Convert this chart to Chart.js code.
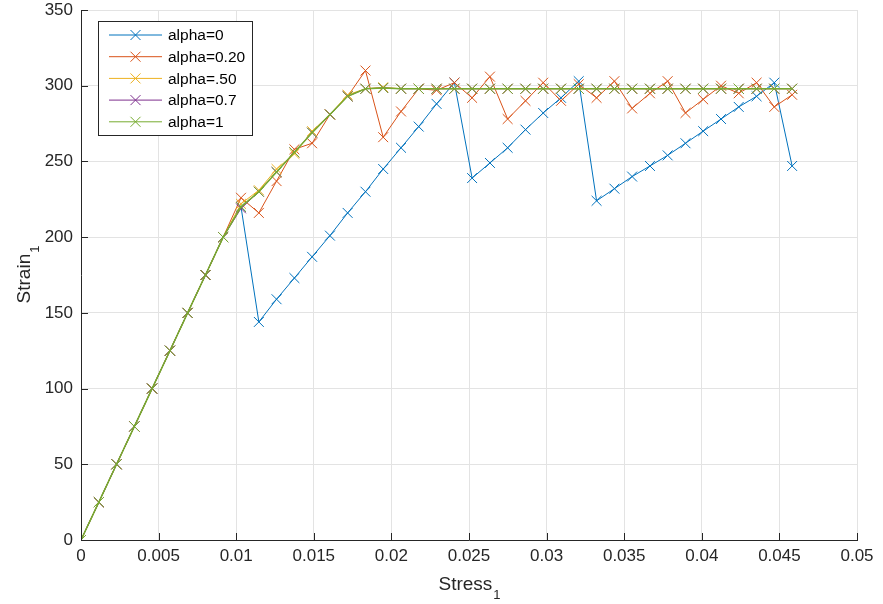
<!DOCTYPE html>
<html>
<head>
<meta charset="utf-8">
<script src="https://cdn.jsdelivr.net/npm/chart.js@4.4.1/dist/chart.umd.min.js"></script>
<style>
  html, body { margin: 0; padding: 0; background: #fff; }
  #wrap { width: 883px; height: 604px; }
</style>
</head>
<body>
<div id="wrap"><canvas id="chart"></canvas></div>
<script>
// stress values shared by every run (x axis)
const stress = [0, 0.00115, 0.00229, 0.00344, 0.00458, 0.00573, 0.00687, 0.00802, 0.00916,
    0.01031, 0.01146, 0.0126, 0.01375, 0.01489, 0.01604, 0.01718, 0.01833, 0.01947, 0.02062,
    0.02176, 0.02291, 0.02406, 0.0252, 0.02635, 0.02749, 0.02864, 0.02978, 0.03093, 0.03207,
    0.03322, 0.03437, 0.03551, 0.03666, 0.0378, 0.03895, 0.04009, 0.04124, 0.04238, 0.04353,
    0.04467, 0.04582];

const seriesLabels = ['alpha=0', 'alpha=0.20', 'alpha=.50', 'alpha=0.7', 'alpha=1'];
const seriesColors = ['#0072BD', '#D95319', '#EDB120', '#7E2F8E', '#77AC30'];
const seriesWidths = [1, 1, 1, 1, 1.5];

const strainAlpha0 = [0, 25, 50, 75, 100, 125, 150, 175, 200,
    220, 144, 159, 173, 187, 201, 216, 230, 245, 259, 273, 288, 302,
    239, 249, 259, 271, 282, 292, 303,
    224, 232, 240, 247, 254, 262, 270, 278, 286, 293, 302,
    247];
const strainAlpha020 = [0, 25, 50, 75, 100, 125, 150, 175, 200,
    226, 216, 237, 258, 262, 281, 293, 310, 266, 283,
    298, 297, 302, 292, 306, 278, 290, 302, 290, 301,
    292, 303, 285, 295, 303, 282, 291, 300, 295, 302, 286,
    294];
const strainAlpha050 = [0, 25, 50, 75, 100, 125, 150, 175, 200,
    222, 231, 245, 255, 270, 281, 294, 298, 299, 298,
    298, 298, 298, 298, 298, 298, 298, 298, 298, 298,
    298, 298, 298, 298, 298, 298, 298, 298, 298, 298, 298,
    298];
const strainAlpha07 = [0, 25, 50, 75, 100, 125, 150, 175, 200,
    219, 230, 243, 256, 269, 281, 293, 298, 298.5, 298,
    298, 298, 298, 298, 298, 298, 298, 298, 298, 298,
    298, 298, 298, 298, 298, 298, 298, 298, 298, 298, 298,
    298];
const strainAlpha1 = [0, 25, 50, 75, 100, 125, 150, 175, 200,
    220, 230, 243, 256, 269, 281, 293, 298, 298.5, 298,
    298, 298, 298, 298, 298, 298, 298, 298, 298, 298,
    298, 298, 298, 298, 298, 298, 298, 298, 298, 298, 298,
    298];

const allStrain = [strainAlpha0, strainAlpha020, strainAlpha050, strainAlpha07, strainAlpha1];

const axisColor = '#262626';
const gridColor = '#e3e3e3';

// MATLAB style: ticks point inwards, axis titles with subscript, legend in the corner
const matlabBits = {
    id: 'matlabBits',
    afterDraw(chart) {
        const ctx = chart.ctx;
        const area = chart.chartArea;
        const xs = chart.scales.x;
        const ys = chart.scales.y;
        ctx.save();
        ctx.strokeStyle = axisColor;
        ctx.lineWidth = 1;
        ctx.beginPath();
        xs.ticks.forEach(t => {
            const px = Math.round(xs.getPixelForValue(t.value)) + 0.5;
            ctx.moveTo(px, area.bottom);
            ctx.lineTo(px, area.bottom - 7);
        });
        ys.ticks.forEach(t => {
            const py = Math.round(ys.getPixelForValue(t.value)) + 0.5;
            ctx.moveTo(area.left, py);
            ctx.lineTo(area.left + 7, py);
        });
        ctx.stroke();

        // axis titles
        ctx.fillStyle = axisColor;
        ctx.textBaseline = 'alphabetic';
        ctx.textAlign = 'left';
        const mainFont = '19px "Liberation Sans", Arial, sans-serif';
        const subFont = '13px "Liberation Sans", Arial, sans-serif';
        ctx.font = mainFont;
        const wStress = ctx.measureText('Stress').width;
        ctx.font = subFont;
        const wSub = ctx.measureText('1').width;
        const cx = (area.left + area.right) / 2;
        let x0 = cx - (wStress + wSub) / 2;
        ctx.font = mainFont;
        ctx.fillText('Stress', x0, 590);
        ctx.font = subFont;
        ctx.fillText('1', x0 + wStress + 1, 599);

        ctx.save();
        const cy = (area.top + area.bottom) / 2;
        ctx.translate(30, cy);
        ctx.rotate(-Math.PI / 2);
        ctx.font = mainFont;
        const wStrain = ctx.measureText('Strain').width;
        x0 = -(wStrain + wSub) / 2;
        ctx.fillText('Strain', x0, 0);
        ctx.font = subFont;
        ctx.fillText('1', x0 + wStrain + 1, 9);
        ctx.restore();

        // legend
        const box = { left: 98.5, top: 21.5, right: 252.5, bottom: 135.5 };
        ctx.fillStyle = '#fff';
        ctx.fillRect(box.left, box.top, box.right - box.left, box.bottom - box.top);
        ctx.strokeStyle = axisColor;
        ctx.lineWidth = 1;
        ctx.strokeRect(box.left, box.top, box.right - box.left, box.bottom - box.top);
        ctx.font = '15.5px "Liberation Sans", Arial, sans-serif';
        ctx.textBaseline = 'middle';
        chart.data.datasets.forEach((ds, i) => {
            const y = 35 + i * 21.7;
            ctx.strokeStyle = ds.borderColor;
            ctx.beginPath();
            ctx.moveTo(109, y);
            ctx.lineTo(162, y);
            ctx.moveTo(135.5 - 5, y - 5);
            ctx.lineTo(135.5 + 5, y + 5);
            ctx.moveTo(135.5 - 5, y + 5);
            ctx.lineTo(135.5 + 5, y - 5);
            ctx.stroke();
            ctx.fillStyle = '#000';
            ctx.fillText(ds.label, 168, y + 1);
        });
        ctx.restore();
    }
};

const datasets = seriesLabels.map((label, i) => ({
    label: label,
    data: stress.map((s, k) => ({ x: s, y: allStrain[i][k] })),
    showLine: true,
    borderColor: seriesColors[i],
    backgroundColor: seriesColors[i],
    borderWidth: seriesWidths[i],
    pointStyle: 'crossRot',
    pointRadius: 7,
    pointBorderWidth: 1,
    tension: 0,
    order: seriesLabels.length - i
}));

const tickFont = { family: '"Liberation Sans", Arial, sans-serif', size: 17 };

new Chart(document.getElementById('chart'), {
    type: 'scatter',
    data: { datasets: datasets },
    options: {
        responsive: true,
        maintainAspectRatio: false,
        animation: false,
        devicePixelRatio: 1,
        layout: { padding: { top: 10, right: 26, left: 0, bottom: 0 } },
        plugins: { legend: { display: false }, tooltip: { enabled: false } },
        scales: {
            x: {
                type: 'linear',
                min: 0,
                max: 0.05,
                ticks: {
                    stepSize: 0.005,
                    font: tickFont,
                    color: axisColor,
                    padding: 6,
                    maxRotation: 0,
                    callback: v => String(parseFloat(v.toFixed(3)))
                },
                grid: { color: gridColor, drawTicks: false },
                border: { color: axisColor, width: 1 },
                afterFit: s => { s.height = 64; s.paddingLeft = 0; s.paddingRight = 0; }
            },
            y: {
                min: 0,
                max: 350,
                ticks: { stepSize: 50, font: tickFont, color: axisColor, padding: 8 },
                grid: { color: gridColor, drawTicks: false },
                border: { color: axisColor, width: 1 },
                afterFit: s => { s.width = 81; s.paddingTop = 0; s.paddingBottom = 0; }
            }
        }
    },
    plugins: [matlabBits]
});
</script>
</body>
</html>
